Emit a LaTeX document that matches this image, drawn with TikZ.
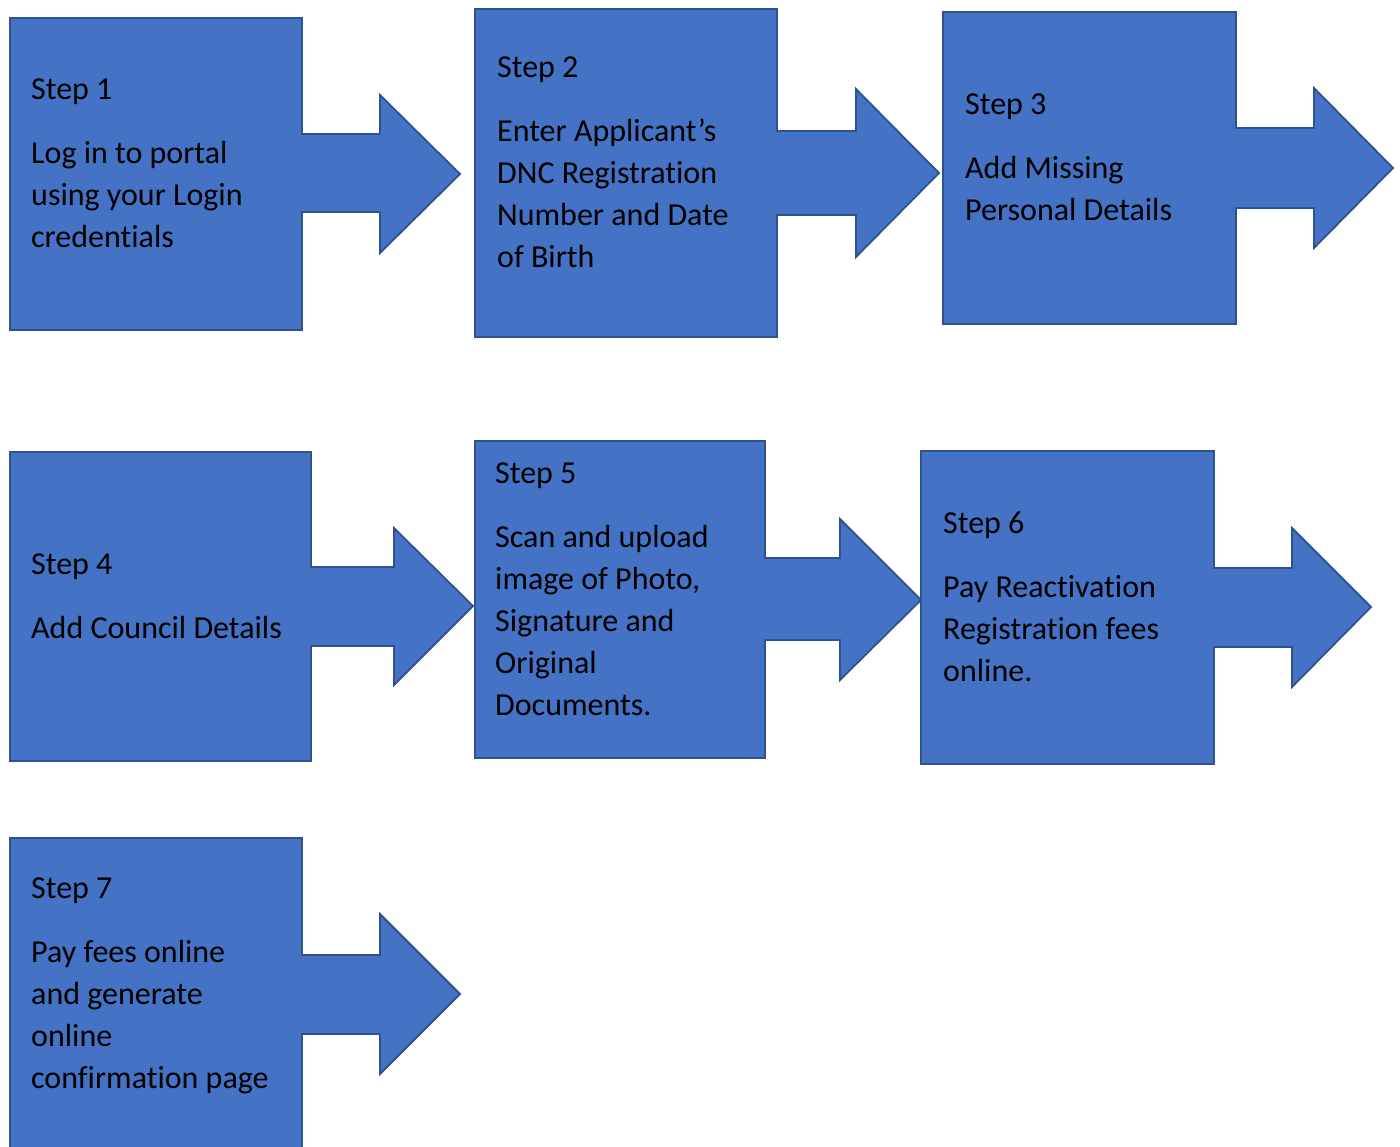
\documentclass[tikz,border=0pt]{standalone}
\usepackage{fontspec}
\setmainfont{Carlito}[Ligatures=NoCommon]
\definecolor{boxfill}{HTML}{4472C4}
\definecolor{boxline}{HTML}{2F528F}
\tikzset{
  callout/.style={fill=boxfill, draw=boxline, line width=1.8pt, line join=miter},
  steptext/.style={anchor=base west, inner sep=0pt, text=black,
    font=\fontsize{32}{42}\selectfont}
}
\newcommand{\stepbody}[1]{\parbox[t]{420pt}{\raggedright #1}}
\begin{document}
\begin{tikzpicture}[x=1pt,y=-1pt]
\useasboundingbox (0,0) rectangle (1400,1146);
\clip (0,0) rectangle (1400,1146);
% Step 1
\draw[callout] (10,18) -- (302,18) -- (302,134) -- (380,134) -- (380,95) -- (460,174)
  -- (380,253) -- (380,212) -- (302,212) -- (302,330) -- (10,330) -- cycle;
% Step 2
\draw[callout] (475,9) -- (777,9) -- (777,131) -- (856,131) -- (856,89) -- (939,173)
  -- (856,257) -- (856,215) -- (777,215) -- (777,337) -- (475,337) -- cycle;
% Step 3
\draw[callout] (943,12) -- (1236,12) -- (1236,128) -- (1314,128) -- (1314,88) -- (1393,168)
  -- (1314,248) -- (1314,208) -- (1236,208) -- (1236,324) -- (943,324) -- cycle;
% Step 4
\draw[callout] (10,452) -- (311,452) -- (311,567) -- (394,567) -- (394,528) -- (473,606)
  -- (394,685) -- (394,646) -- (311,646) -- (311,761) -- (10,761) -- cycle;
% Step 5
\draw[callout] (475,441) -- (765,441) -- (765,558) -- (840,558) -- (840,519) -- (921,600)
  -- (840,680) -- (840,640) -- (765,640) -- (765,758) -- (475,758) -- cycle;
% Step 6
\draw[callout] (921,451) -- (1214,451) -- (1214,568) -- (1292,568) -- (1292,528) -- (1371,607)
  -- (1292,687) -- (1292,647) -- (1214,647) -- (1214,764) -- (921,764) -- cycle;
% Step 7
\draw[callout] (10,838) -- (302,838) -- (302,955) -- (380,955) -- (380,914) -- (460,994)
  -- (380,1074) -- (380,1034) -- (302,1034) -- (302,1170) -- (10,1170) -- cycle;

\node[steptext] (t1) at (31,99) {\stepbody{Step 1\\[22pt]Log in to portal\\using your Login\\credentials}};
\node[steptext] (t2) at (497,77) {\stepbody{Step 2\\[22pt]Enter Applicant’s\\DNC Registration\\Number and Date\\of Birth}};
\node[steptext] (t3) at (965,114) {\stepbody{Step 3\\[22pt]Add Missing\\Personal Details}};
\node[steptext] (t4) at (31,574) {\stepbody{Step 4\\[22pt]Add Council Details}};
\node[steptext] (t5) at (495,483) {\stepbody{Step 5\\[22pt]Scan and upload\\image of Photo,\\Signature and\\Original\\Documents.}};
\node[steptext] (t6) at (943,533) {\stepbody{Step 6\\[22pt]Pay Reactivation\\Registration fees\\online.}};
\node[steptext] (t7) at (31,898) {\stepbody{Step 7\\[22pt]Pay fees online\\and generate\\online\\confirmation page}};
\end{tikzpicture}
\end{document}
